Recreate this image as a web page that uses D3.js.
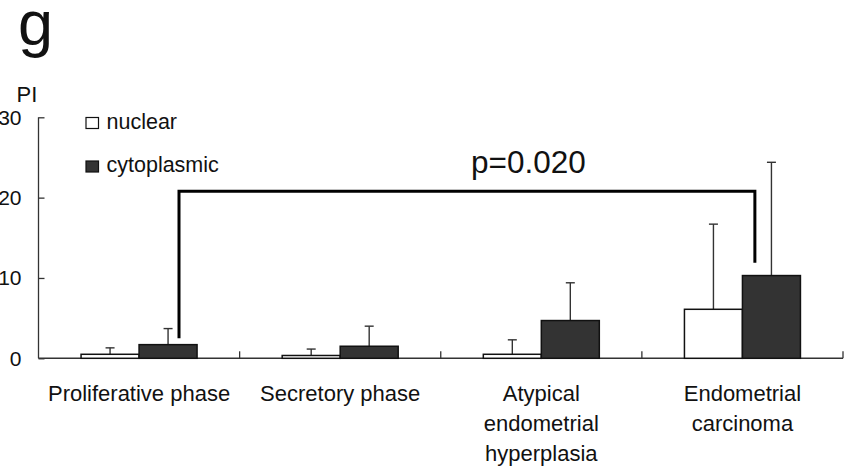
<!DOCTYPE html>
<html>
<head>
<meta charset="utf-8">
<script src="https://cdn.jsdelivr.net/npm/d3@7"></script>
<style>
  body { margin: 0; background: #fff; }
  svg { display: block; font-family: "Liberation Sans", Arial, sans-serif; }
  .yaxis text { font-size: 21px; fill: #111; }
  .axis path, .axis line { stroke: #333; stroke-width: 1.3; }
  .cat { font-size: 22px; fill: #111; }
</style>
</head>
<body>
<svg id="chart" width="856" height="469"></svg>
<script>
const categories = ["Proliferative phase", "Secretory phase", "Atypical endometrial hyperplasia", "Endometrial carcinoma"];
const categoryLines = [["Proliferative phase"], ["Secretory phase"], ["Atypical", "endometrial", "hyperplasia"], ["Endometrial", "carcinoma"]];
const series = ["nuclear", "cytoplasmic"];
const nuclearMean = [0.5, 0.35, 0.5, 6.1];
const nuclearSD = [0.8, 0.8, 1.8, 10.6];
const cytoMean = [1.7, 1.5, 4.7, 10.3];
const cytoSD = [2.0, 2.5, 4.7, 14.1];
const yTicks = [0, 10, 20, 30];
const bracket = { from: "Proliferative phase", to: "Endometrial carcinoma", top: 20.8, leftEnd: 2.5, rightEnd: 11.9, label: "p=0.020" };

const svg = d3.select("#chart");
const x = d3.scaleBand().domain(categories).range([38.5, 843]);
const y = d3.scaleLinear().domain([0, 30]).range([358.3, 117.3]);
const barW = 58;

const rows = categories.map((c, i) => [
  { cat: c, key: "nuclear", mean: nuclearMean[i], sd: nuclearSD[i], dx: -barW },
  { cat: c, key: "cytoplasmic", mean: cytoMean[i], sd: cytoSD[i], dx: 0 }
]).flat();
const fill = { nuclear: "#fff", cytoplasmic: "#333" };
const center = (c) => x(c) + x.bandwidth() / 2;

// panel letter and axis title
svg.append("text").attr("x", 18).attr("y", 45).attr("font-size", 63).attr("fill", "#111").text("g");
svg.append("text").attr("x", 16.5).attr("y", 102).attr("font-size", 22).attr("fill", "#111").text("PI");

// y axis, ticks pointing inward
svg.append("g").attr("class", "axis yaxis")
  .attr("transform", "translate(38.5,0)")
  .call(d3.axisLeft(y).tickValues(yTicks).tickSizeInner(-6).tickSizeOuter(0).tickPadding(17))
  .call((g) => g.select(".domain").attr("d", `M0,${y(30)}V${y(0)}`));

// x axis line + boundary ticks
const xAxis = svg.append("g").attr("class", "axis");
xAxis.append("line").attr("x1", 38.5).attr("x2", 843).attr("y1", y(0)).attr("y2", y(0)).style("stroke-width", 1.6);
xAxis.selectAll("line.tick").data(categories).join("line")
  .attr("class", "tick")
  .attr("x1", (d) => x(d) + x.bandwidth()).attr("x2", (d) => x(d) + x.bandwidth())
  .attr("y1", y(0)).attr("y2", y(0) - 7);

const labels = xAxis.selectAll("text.cat").data(categories).join("text")
  .attr("class", "cat")
  .attr("text-anchor", "middle");
labels.selectAll("tspan").data((d, i) => categoryLines[i].map((t) => ({ t, c: d }))).join("tspan")
  .attr("x", (d) => center(d.c))
  .attr("y", (d, i) => 401 + i * 30)
  .text((d) => d.t);

// error bars (upward only)
const err = svg.append("g").attr("stroke", "#333").attr("stroke-width", 1.4);
err.selectAll("line.v").data(rows).join("line")
  .attr("class", "v")
  .attr("x1", (d) => center(d.cat) + d.dx + barW / 2).attr("x2", (d) => center(d.cat) + d.dx + barW / 2)
  .attr("y1", (d) => y(d.mean)).attr("y2", (d) => y(d.mean + d.sd));
err.selectAll("line.cap").data(rows).join("line")
  .attr("class", "cap")
  .attr("x1", (d) => center(d.cat) + d.dx + barW / 2 - 4.5).attr("x2", (d) => center(d.cat) + d.dx + barW / 2 + 4.5)
  .attr("y1", (d) => y(d.mean + d.sd)).attr("y2", (d) => y(d.mean + d.sd));

// bars
svg.append("g").selectAll("rect").data(rows).join("rect")
  .attr("x", (d) => center(d.cat) + d.dx)
  .attr("y", (d) => y(d.mean))
  .attr("width", barW)
  .attr("height", (d) => y(0) - y(d.mean))
  .attr("fill", (d) => fill[d.key])
  .attr("stroke", "#111")
  .attr("stroke-width", 1.5);

// legend
const legend = svg.append("g").selectAll("g").data(series).join("g")
  .attr("transform", (d, i) => `translate(86,${117.5 + i * 43.5})`);
legend.append("rect").attr("width", 12.5).attr("height", 11)
  .attr("fill", (d) => fill[d]).attr("stroke", "#111").attr("stroke-width", 1.2);
legend.append("text").attr("x", 20.5).attr("y", 11).attr("font-size", 21.5).attr("fill", "#111").text((d) => d);

// significance bracket
const bx1 = x(bracket.from) + 140.5;
const bx2 = x(bracket.to) + 113;
svg.append("path")
  .attr("d", `M${bx1},${y(bracket.leftEnd)}V${y(bracket.top)}H${bx2}V${y(bracket.rightEnd)}`)
  .attr("fill", "none").attr("stroke", "#000").attr("stroke-width", 3);
svg.append("text").attr("x", 471).attr("y", 173.3).attr("font-size", 31.5).attr("fill", "#111").text(bracket.label);
</script>
</body>
</html>
